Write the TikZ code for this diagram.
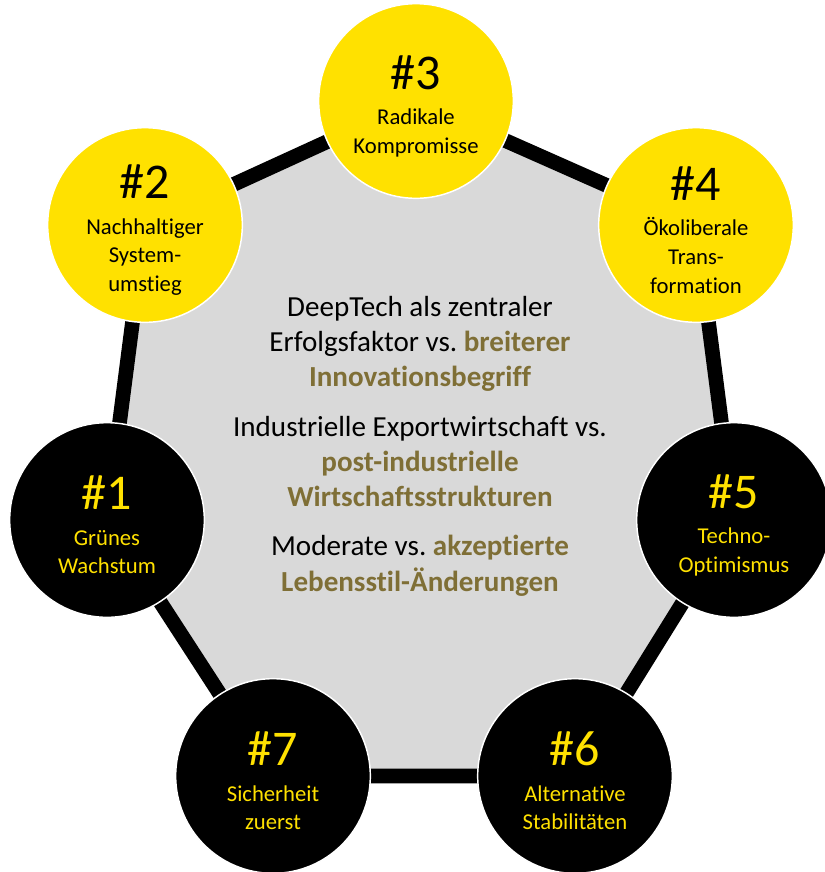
\documentclass[tikz,border=0pt]{standalone}
\usepackage{fontspec}
\setmainfont{Carlito}[Ligatures=NoCommon]
\usetikzlibrary{backgrounds}
\definecolor{scyellow}{HTML}{FFE100}
\definecolor{scolive}{HTML}{7F6F36}
\definecolor{scgray}{HTML}{D9D9D9}
\newcommand{\scnum}[1]{{\fontsize{37.5}{40}\selectfont\rule{0pt}{33pt}\##1}}
\newcommand{\olive}[1]{\textbf{\color{scolive}#1}}
\frenchspacing

\begin{document}
\begin{tikzpicture}[x=0.75pt,y=-0.75pt]
		\tikzstyle{scenario}=[circle,draw=white,line width=1.1pt,minimum size=146pt,
		inner sep=0pt,align=center,font=\fontsize{17}{21.5}\selectfont]
		\tikzstyle{lightsc}=[scenario,fill=scyellow,text=black]
		\tikzstyle{darksc}=[scenario,fill=black,text=scyellow]
		
		\useasboundingbox (0,0) rectangle (825,872);
		
		\node[darksc]    (s1) at (107,520) {\scnum{1}\\[5pt] Grünes\\ Wachstum};
		\node[lightsc]   (s2) at (145,225) {\scnum{2}\\[5pt] Nachhaltiger\\ System-\\ umstieg};
		\node[lightsc]   (s3) at (416,101) {\scnum{3}\\[5pt] Radikale\\ Kompromisse};
		\node[lightsc]   (s4) at (696,225) {\scnum{4}\\[5pt] Ökoliberale\\ Trans-\\ formation};
		\node[darksc]    (s5) at (734,520) {\scnum{5}\\[5pt] Techno-\\ Optimismus};
		\node[darksc]    (s6) at (575,776) {\scnum{6}\\[5pt] Alternative\\ Stabilitäten};
		\node[darksc]    (s7) at (273,776) {\scnum{7}\\[5pt] Sicherheit\\ zuerst};
		
		\node[align=center,font=\fontsize{21.8}{26.3}\selectfont] (axes) at (420,446)
		{DeepTech als zentraler\\ Erfolgsfaktor vs. \olive{breiterer}\\ \olive{Innovationsbegriff}\\[11pt]
			Industrielle Exportwirtschaft vs.\\ \olive{post-industrielle}\\ \olive{Wirtschaftsstrukturen}\\[11pt]
			Moderate vs. \olive{akzeptierte}\\ \olive{Lebensstil-Änderungen}};
		
		\begin{scope}[on background layer]
		\draw[line width=11pt,fill=scgray] (s1.center) -- (s2.center) -- (s3.center) -- (s4.center)
		-- (s5.center) -- (s6.center) -- (s7.center) -- cycle;
		\end{scope}
\end{tikzpicture}
\end{document}
